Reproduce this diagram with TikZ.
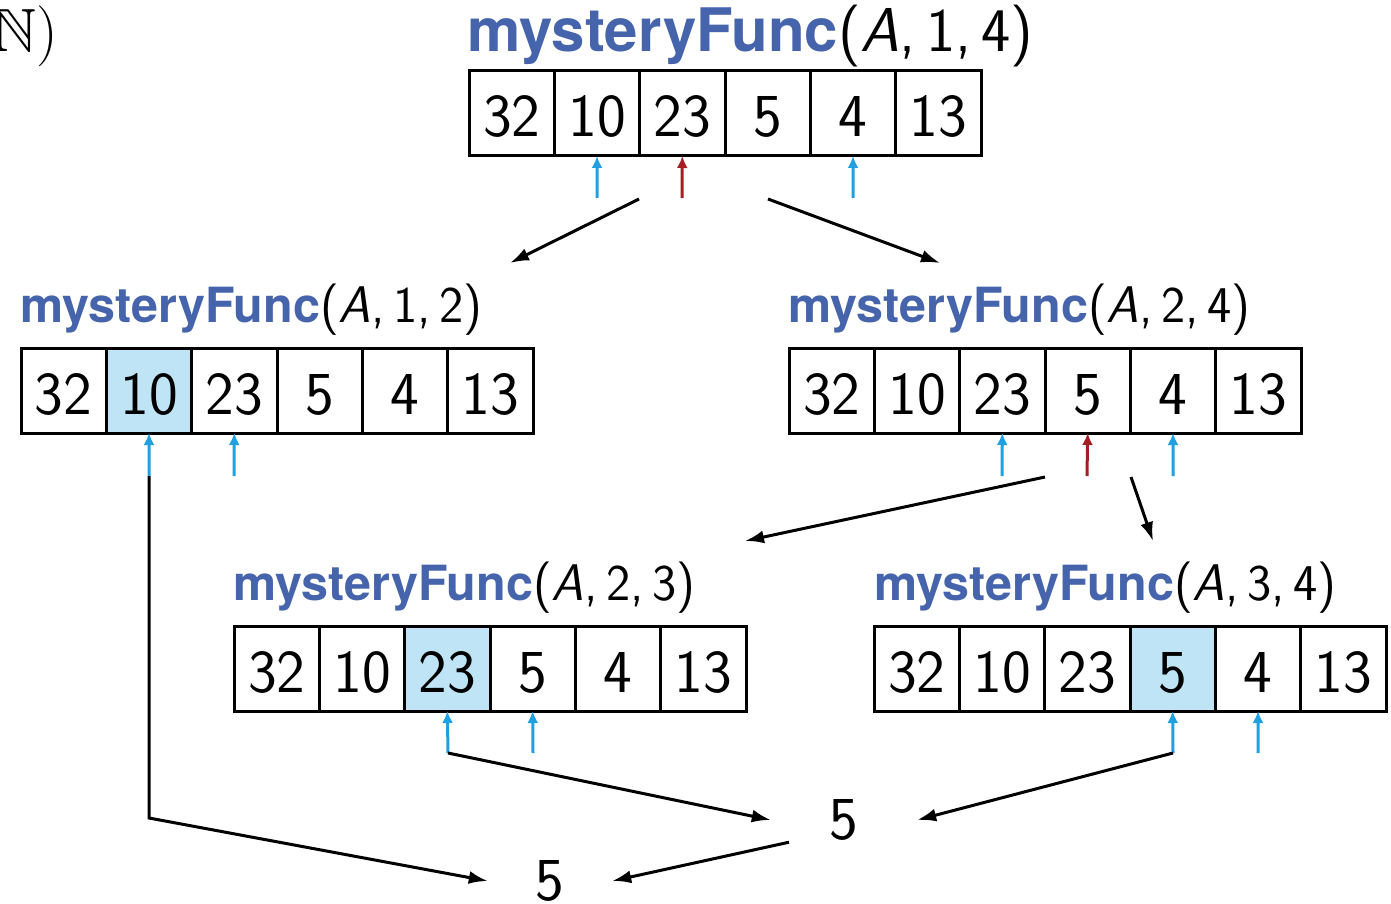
\documentclass[tikz,border=0pt]{standalone}
\usepackage{amssymb}
\usepackage{fontspec}
\newfontfamily\headfont{TeX Gyre Heros}
\usetikzlibrary{arrows.meta}

\definecolor{titleblue}{RGB}{69,100,171}
\definecolor{cellblue}{RGB}{190,228,246}
\definecolor{ptrcyan}{RGB}{30,160,225}
\definecolor{ptrred}{RGB}{165,30,35}

\tikzset{
  cell/.style={draw=black, line width=3pt, minimum width=85.333pt,
    minimum height=85pt, inner sep=0pt, outer sep=0pt,
    text height=47pt, text depth=0pt,
    font=\fontsize{61}{70}\selectfont\sffamily},
  bigtitle/.style={anchor=base west, inner sep=0pt,
    font=\fontsize{62}{70}\selectfont\sffamily},
  subtitle/.style={anchor=base west, inner sep=0pt,
    font=\fontsize{51.5}{60}\selectfont\sffamily},
  ptr/.style={line width=3pt, -{Latex[length=12pt,width=11pt]}},
  bluptr/.style={ptr, draw=ptrcyan},
  redptr/.style={ptr, draw=ptrred},
  call/.style={line width=3pt, draw=black, -{Latex[length=19pt,width=13pt]}},
  ret/.style={line width=3pt, draw=black, line join=miter, -{Latex[length=19pt,width=13pt]}},
  result/.style={inner sep=0pt, minimum height=44pt,
    font=\fontsize{61}{70}\selectfont\sffamily},
}

% one array of six cells, #1 = name prefix, (#2,#3) = top left corner, #4 = shaded cell
\newcommand{\cellrow}[4]{%
  \foreach \v [count=\i] in {32,10,23,5,4,13} {%
    \ifnum\i=#4 \def\cf{cellblue}\else\def\cf{white}\fi
    \node[cell, fill=\cf] (#1\i) at ({#2+85.333*(\i-0.5)},{#3+42.5}) {\v};
  }%
}

% function name, #1 = size of the bold name
\newcommand{\fname}[1]{{\color{titleblue}\headfont\bfseries\fontsize{#1}{#1}\selectfont mysteryFunc}}

\begin{document}
\begin{tikzpicture}[x=1pt, y=-1pt]
\useasboundingbox (0,0) rectangle (1391,904);

% leftover of the preceding line
\node[anchor=base east, inner sep=0pt, font=\fontsize{61}{70}\selectfont] (nat) at (58,52) {$\mathbb{N}$)};

% calls and their arrays
\node[bigtitle] (ttop) at (467,52) {\fname{60}(\textit{A},\,1,\,4)};
\cellrow{t}{469}{71}{0}

\node[subtitle] (tml) at (20,322) {\fname{48.5}(\textit{A},\,1,\,2)};
\cellrow{l}{21}{348}{2}

\node[subtitle] (tmr) at (788,322) {\fname{48.5}(\textit{A},\,2,\,4)};
\cellrow{r}{789}{348}{0}

\node[subtitle] (tbl) at (233,600) {\fname{48.5}(\textit{A},\,2,\,3)};
\cellrow{a}{234}{626}{3}

\node[subtitle] (tbr) at (874,600) {\fname{48.5}(\textit{A},\,3,\,4)};
\cellrow{b}{874}{626}{4}

% results
\node[result, minimum width=146pt] (res1) at (844,820) {5};
\node[result, minimum width=124pt] (res0) at (550,881) {5};

% pointer tails
\coordinate (tq2) at (597,198);
\coordinate (tq3) at (682,198);
\coordinate (tq5) at (853,198);
\coordinate (lq2) at (149,476);
\coordinate (lq3) at (234,476);
\coordinate (rq3) at (1002,476);
\coordinate (rq4) at (1087,476);
\coordinate (rq5) at (1173,476);
\coordinate (aq3) at (448,753);
\coordinate (aq4) at (533,753);
\coordinate (bq4) at (1173,753);
\coordinate (bq5) at (1258,753);

% pointers
\draw[bluptr] (tq2) -- (t2.south);
\draw[redptr] (tq3) -- (t3.south);
\draw[bluptr] (tq5) -- (t5.south);
\draw[bluptr] (lq2) -- (l2.south);
\draw[bluptr] (lq3) -- (l3.south);
\draw[bluptr] (rq3) -- (r3.south);
\draw[redptr] (rq4) -- (r4.south);
\draw[bluptr] (rq5) -- (r5.south);
\draw[bluptr] (aq3) -- (a3.south);
\draw[bluptr] (aq4) -- (a4.south);
\draw[bluptr] (bq4) -- (b4.south);
\draw[bluptr] (bq5) -- (b5.south);

% recursive calls
\coordinate (c1s) at (639,199);  \coordinate (c1e) at (510,263);
\coordinate (c2s) at (768,199);  \coordinate (c2e) at (940,263);
\coordinate (c3s) at (1045,477); \coordinate (c3e) at (745,541);
\coordinate (c4s) at (1131,477); \coordinate (c4e) at (1153,541);
\draw[call] (c1s) -- (c1e);
\draw[call] (c2s) -- (c2e);
\draw[call] (c3s) -- (c3e);
\draw[call] (c4s) -- (c4e);

% returned values
\coordinate (bend) at (149,818);
\draw[ret] (aq3) -- (res1.west);
\draw[ret] (bq4) -- (res1.east);
\draw[ret] (lq2) -- (bend) -- (res0.west);
\draw[ret] ([xshift=-55pt]res1.south) -- (res0.east);
\end{tikzpicture}
\end{document}
